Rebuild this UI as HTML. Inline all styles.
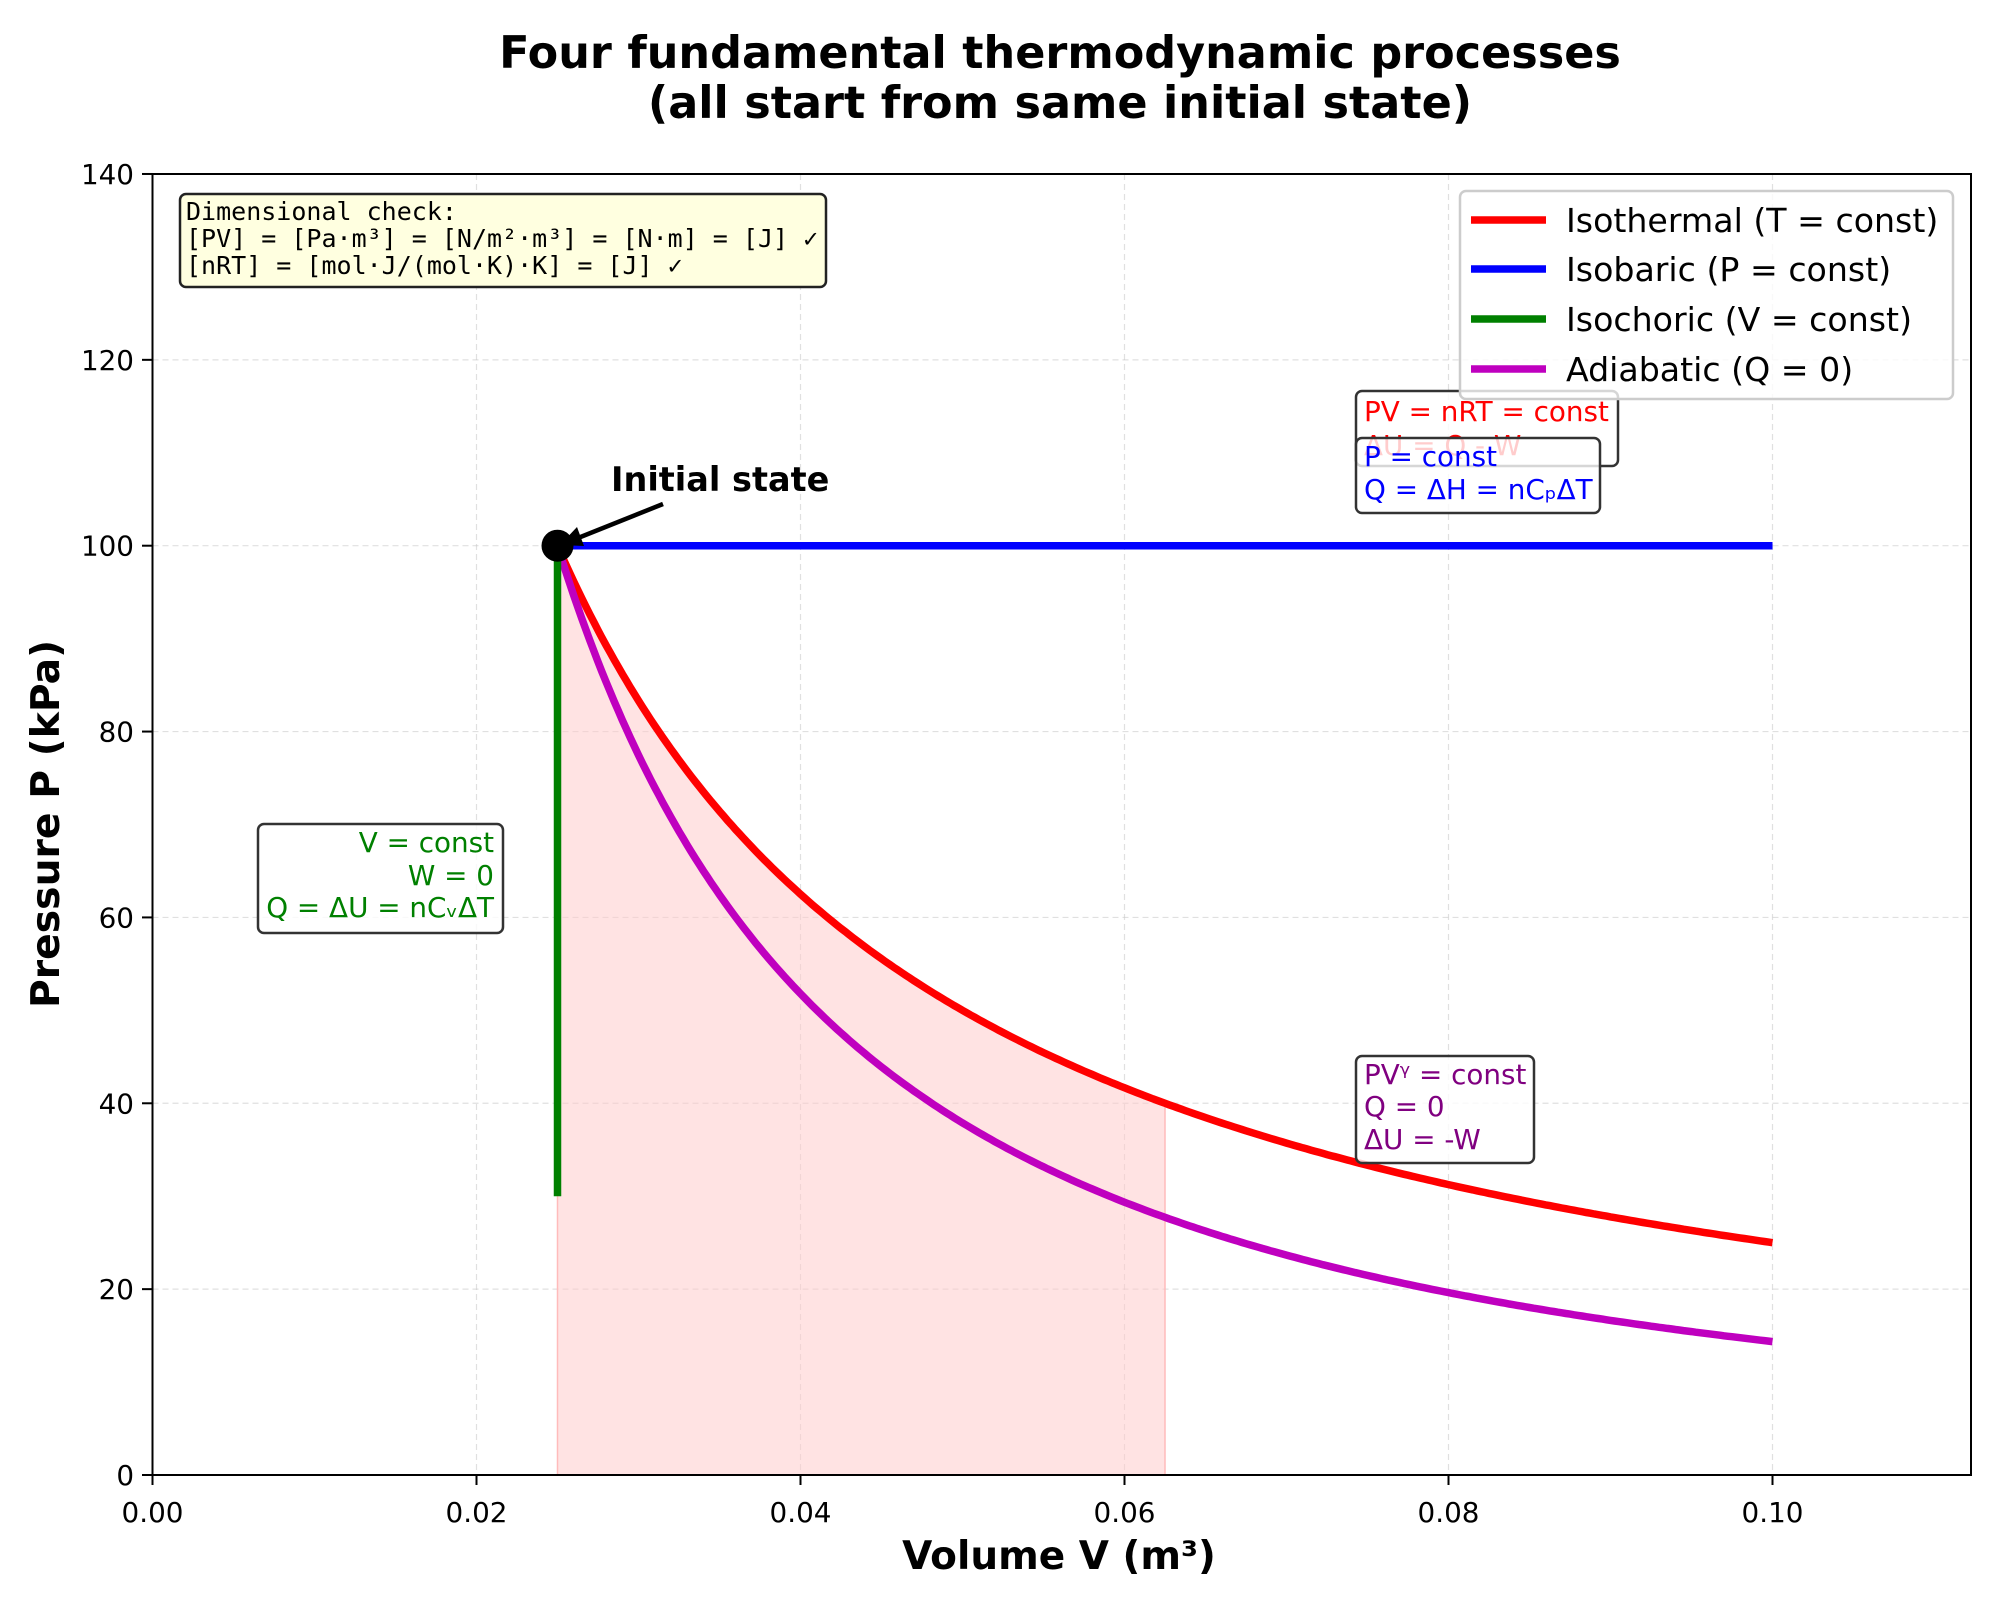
<!DOCTYPE html>
<html><head><meta charset="utf-8"><style>
html,body{margin:0;padding:0;background:#fff;}
svg{display:block;font-family:"DejaVu Sans","Liberation Sans",sans-serif;}
</style></head><body>
<svg id="s" width="2000" height="1600" viewBox="0 0 2000 1600" xmlns="http://www.w3.org/2000/svg">
<rect width="2000" height="1600" fill="#fff"/>
<text x="1060" y="68" font-size="44.5" font-weight="bold" text-anchor="middle">Four fundamental thermodynamic processes</text>
<text x="1060" y="118" font-size="44.5" font-weight="bold" text-anchor="middle">(all start from same initial state)</text>
<g id="grid" stroke="#ccc" stroke-opacity="0.6" stroke-width="1.2" stroke-dasharray="6,4"></g>
<path id="fill" fill="#fcc" fill-opacity="0.55" stroke="#fbb" stroke-width="1.5"/>
<path id="iso" fill="none" stroke="#f00" stroke-width="7.5"/>
<path id="adi" fill="none" stroke="#bf00bf" stroke-width="7.5"/>
<line id="isob" stroke="#00f" stroke-width="7.5"/>
<line id="isoc" stroke="#008000" stroke-width="7.5"/>
<circle id="dot" r="16" fill="#000"/>
<line x1="663" y1="504" x2="573" y2="540" stroke="#000" stroke-width="4.5"/>
<polygon points="560,545 577,527 584,546" fill="#000"/>
<text x="611" y="491" font-size="33.5" font-weight="bold">Initial state</text>
<rect x="152.5" y="174" width="1818.5" height="1301" fill="none" stroke="#000" stroke-width="2"/>
<g id="ticks" font-size="27.8"></g>
<text x="1059" y="1569" font-size="39" font-weight="bold" text-anchor="middle">Volume V (m³)</text>
<text transform="translate(59,824) rotate(-90)" font-size="39.3" font-weight="bold" text-anchor="middle">Pressure P (kPa)</text>
<rect x="180" y="194" width="646" height="93" rx="6" fill="#ffffe0" stroke="#222" stroke-width="2.5"/>
<g font-family="'DejaVu Sans Mono','Liberation Mono',monospace" font-size="25">
<text x="186" y="220">Dimensional check:</text>
<text x="186" y="247">[PV] = [Pa·m³] = [N/m²·m³] = [N·m] = [J] ✓</text>
<text x="186" y="274">[nRT] = [mol·J/(mol·K)·K] = [J] ✓</text>
</g>
<rect x="258" y="824" width="245" height="109" rx="6" fill="#fff" fill-opacity="0.8" stroke="#333" stroke-width="2.5"/>
<g font-size="27.8" fill="#008000" text-anchor="end">
<text x="494" y="852">V = const</text><text x="494" y="885">W = 0</text><text x="494" y="917">Q = ΔU = nCᵥΔT</text>
</g>
<rect x="1356" y="391" width="262" height="75" rx="6" fill="#fff" fill-opacity="0.8" stroke="#333" stroke-width="2.5"/>
<g font-size="27.8" fill="#f00"><text x="1364" y="421">PV = nRT = const</text><text x="1364" y="455">ΔU = Q - W</text></g>
<rect x="1356" y="438" width="244" height="75" rx="6" fill="#fff" fill-opacity="0.8" stroke="#333" stroke-width="2.5"/>
<g font-size="27.8" fill="#00f"><text x="1364" y="466">P = const</text><text x="1364" y="499">Q = ΔH = nCₚΔT</text></g>
<rect x="1356" y="1056" width="178" height="107" rx="6" fill="#fff" fill-opacity="0.8" stroke="#333" stroke-width="2.5"/>
<g font-size="27.8" fill="#800080"><text x="1364" y="1084">PVᵞ = const</text><text x="1364" y="1116">Q = 0</text><text x="1364" y="1149">ΔU = -W</text></g>
<rect x="1460" y="191" width="493" height="208" rx="6" fill="#fff" fill-opacity="0.8" stroke="#ccc" stroke-width="2.5"/>
<g stroke-width="7.5">
<line x1="1471" y1="220" x2="1546" y2="220" stroke="#f00"/>
<line x1="1471" y1="269" x2="1546" y2="269" stroke="#00f"/>
<line x1="1471" y1="319" x2="1546" y2="319" stroke="#008000"/>
<line x1="1471" y1="369" x2="1546" y2="369" stroke="#bf00bf"/>
</g>
<g font-size="33.2">
<text x="1566" y="232">Isothermal (T = const)</text>
<text x="1566" y="281">Isobaric (P = const)</text>
<text x="1566" y="331">Isochoric (V = const)</text>
<text x="1566" y="381">Adiabatic (Q = 0)</text>
</g>
</svg>
<script>
const X=v=>152.5+v*16200, Y=p=>1475-p*9.293;
const ns="http://www.w3.org/2000/svg";
function el(t,a,par,txt){const e=document.createElementNS(ns,t);for(const k in a)e.setAttribute(k,a[k]);if(txt!=null)e.textContent=txt;document.getElementById(par).appendChild(e);return e;}
for(let i=0;i<=5;i++){const x=X(i*0.02);el('line',{x1:x,y1:174,x2:x,y2:1475},'grid');
 el('line',{x1:x,y1:1475,x2:x,y2:1485,stroke:'#000','stroke-width':2},'ticks');
 el('text',{x:x,y:1522,'text-anchor':'middle'},'ticks',(i*0.02).toFixed(2));}
for(let i=0;i<=7;i++){const y=Y(i*20);el('line',{x1:152.5,y1:y,x2:1971,y2:y},'grid');
 el('line',{x1:142,y1:y,x2:152.5,y2:y,stroke:'#000','stroke-width':2},'ticks');
 el('text',{x:134,y:y+10,'text-anchor':'end'},'ticks',String(i*20));}
let a='',b='',f='M'+X(0.025)+','+Y(0);
for(let i=0;i<=300;i++){const v=0.025+0.075*i/300;const p1=2.5/v,p2=100*Math.pow(0.025/v,1.4);
 a+=(i?'L':'M')+X(v).toFixed(1)+','+Y(p1).toFixed(1);b+=(i?'L':'M')+X(v).toFixed(1)+','+Y(p2).toFixed(1);}
for(let i=0;i<=150;i++){const v=0.025+0.0375*i/150;f+='L'+X(v).toFixed(1)+','+Y(2.5/v).toFixed(1);}
f+='L'+X(0.0625)+','+Y(0)+'Z';
document.getElementById('iso').setAttribute('d',a);
document.getElementById('adi').setAttribute('d',b);
document.getElementById('fill').setAttribute('d',f);
const l=document.getElementById('isob');l.setAttribute('x1',X(0.025));l.setAttribute('x2',X(0.1));l.setAttribute('y1',Y(100));l.setAttribute('y2',Y(100));
const c=document.getElementById('isoc');c.setAttribute('x1',X(0.025));c.setAttribute('x2',X(0.025));c.setAttribute('y1',Y(100));c.setAttribute('y2',Y(30));
const d=document.getElementById('dot');d.setAttribute('cx',X(0.025));d.setAttribute('cy',Y(100));
</script>
</body></html>
